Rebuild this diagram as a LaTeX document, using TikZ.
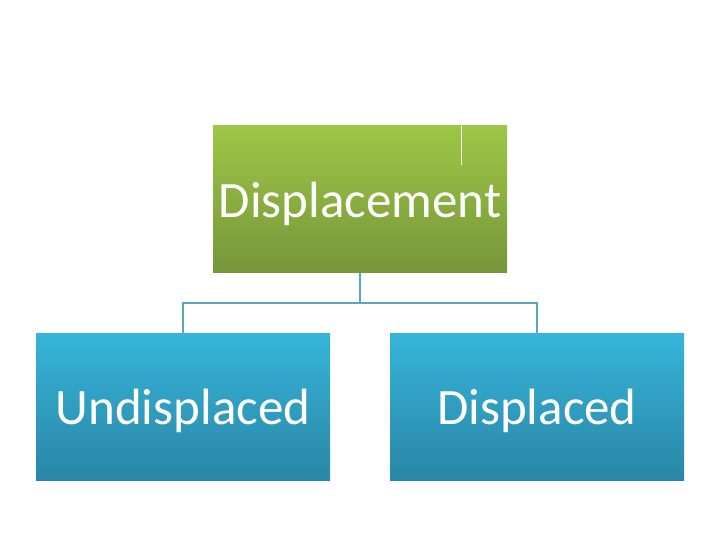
\documentclass[tikz,border=0pt]{standalone}
\usepackage{fontspec}
\setmainfont{Carlito}
\definecolor{gtop}{HTML}{9EC646}
\definecolor{gbot}{HTML}{76963A}
\definecolor{btop}{HTML}{36B4D9}
\definecolor{bbot}{HTML}{2A86A6}
\definecolor{conn}{HTML}{5AA8BF}
\begin{document}
\begin{tikzpicture}[x=1pt,y=1pt,
  gbox/.style={rectangle, minimum width=294pt, minimum height=147pt, inner sep=0pt,
    top color=gtop, bottom color=gbot},
  bbox/.style={rectangle, minimum width=294pt, minimum height=147pt, inner sep=0pt,
    top color=btop, bottom color=bbot},
  lbl/.style={text=white, font=\fontsize{51}{56}\selectfont, inner sep=0pt},
  link/.style={draw=conn, line width=2.6pt}]
\useasboundingbox (0,0) rectangle (720,540);
\node[gbox] (top) at (360,340.5) {};
\node[bbox] (left) at (183,132.5) {};
\node[bbox] (right) at (537,132.5) {};
\node[lbl, anchor=base] (ttop) at (360,322) {Displacement};
\node[lbl, anchor=base] (tleft) at (183,115) {Undisplaced};
\node[lbl, anchor=base] (tright) at (537,115) {Displaced};
\coordinate (mid) at (360,237);
\draw[link] (top.south) -- (mid);
\draw[link] (left.north) |- (mid) -| (right.north);
\coordinate (c1) at (461,414);
\coordinate (c2) at (461,375);
\draw[white, line width=0.8pt] (c1) -- (c2);
\end{tikzpicture}
\end{document}
